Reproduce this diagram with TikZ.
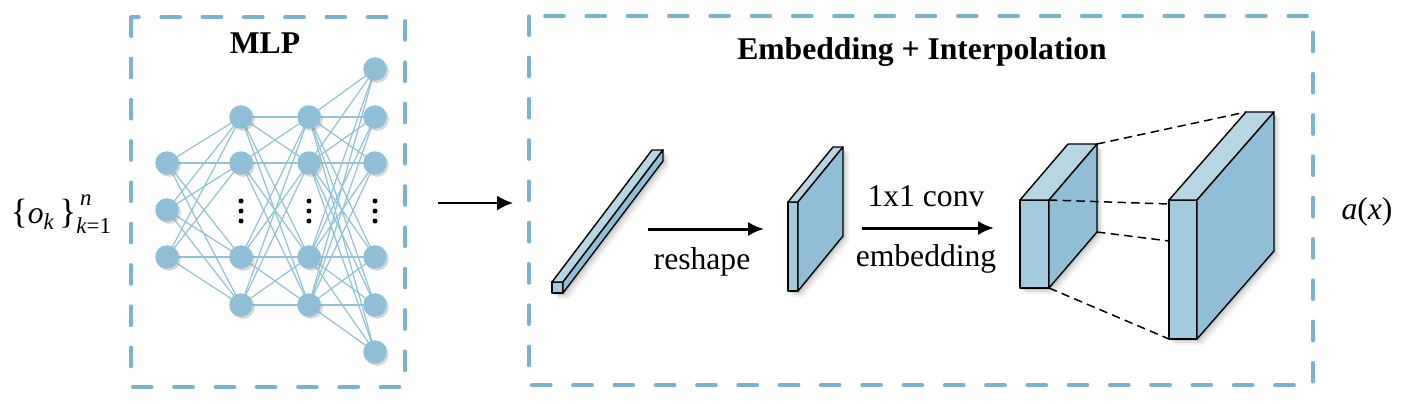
\documentclass[tikz,border=0pt]{standalone}
\usepackage{fontspec}
\setmainfont{Liberation Serif}
\usetikzlibrary{shadows,backgrounds,arrows.meta}
\definecolor{boxblue}{HTML}{7AB3CF}
\definecolor{neuron}{HTML}{8FBFD6}
\definecolor{edgeblue}{HTML}{92C2DA}
\definecolor{ffront}{HTML}{A3CADD}
\definecolor{ftop}{HTML}{B6D6E4}
\definecolor{fright}{HTML}{8FBED6}
\tikzset{
  groupbox/.style={draw=boxblue, line width=1.9pt, dash pattern=on 11pt off 12.5pt, line cap=round},
  neuronnode/.style={circle, fill=neuron, minimum size=0.47cm, inner sep=0pt,
    drop shadow={shadow xshift=1.2pt, shadow yshift=-1.2pt, opacity=0.3, fill=gray}},
  link/.style={draw=edgeblue, line width=0.7pt},
  dotnode/.style={circle, fill=black, minimum size=0.1cm, inner sep=0pt},
  face/.style={draw=black, line width=0.8pt, line join=round},
  flowthin/.style={draw=black, line width=1.1pt, -{Latex[length=9pt,width=8.5pt]}},
  flowthick/.style={draw=black, line width=1.7pt, -{Latex[length=9pt,width=8pt]}},
  guide/.style={draw=black, line width=0.85pt, dash pattern=on 4.8pt off 3pt},
  txt/.style={font=\fontsize{18}{21}\selectfont, inner sep=0pt},
  head/.style={font=\fontsize{18}{21}\selectfont\bfseries, inner sep=0pt},
}
% name, x, y, w, h, dx, dy  (pixel units, y downward)
\newcommand{\slab}[7]{%
  \coordinate (#1-ftl) at (#2,#3);
  \coordinate (#1-ftr) at (#2+#4,#3);
  \coordinate (#1-fbr) at (#2+#4,#3+#5);
  \coordinate (#1-fbl) at (#2,#3+#5);
  \coordinate (#1-btl) at (#2+#6,#3+#7);
  \coordinate (#1-btr) at (#2+#4+#6,#3+#7);
  \coordinate (#1-bbr) at (#2+#4+#6,#3+#5+#7);
  \foreach \s/\o in {2/0.10,4/0.07,6/0.05}{%
    \begin{scope}[shift={(\s,\s)}]
      \fill[black,opacity=\o] (#2,#3+#5) -- (#2,#3) -- (#2+#6,#3+#7) -- (#2+#4+#6,#3+#7)
        -- (#2+#4+#6,#3+#5+#7) -- (#2+#4,#3+#5) -- cycle;
    \end{scope}}
  \filldraw[face,fill=ffront] (#1-ftl) -- (#1-ftr) -- (#1-fbr) -- (#1-fbl) -- cycle;
  \filldraw[face,fill=ftop] (#1-ftl) -- (#1-btl) -- (#1-btr) -- (#1-ftr) -- cycle;
  \filldraw[face,fill=fright] (#1-ftr) -- (#1-btr) -- (#1-bbr) -- (#1-fbr) -- cycle;
}
\begin{document}
\begin{tikzpicture}[x=0.02cm,y=-0.02cm]
\useasboundingbox (0,0) rectangle (1406,403);

% group boxes
\draw[groupbox] (131,17) rectangle (405,387);
\draw[groupbox] (529,16) rectangle (1313,385);
\node[head] (mlptitle) at (265,43) {MLP};
\node[head] (embtitle) at (922,52) {Embedding + Interpolation};

% neurons
\foreach \y [count=\i] in {163,210,257} \node[neuronnode] (a\i) at (167,\y) {};
\foreach \y [count=\i] in {117,163,257,305} \node[neuronnode] (b\i) at (241,\y) {};
\foreach \y [count=\i] in {117,163,257,305} \node[neuronnode] (c\i) at (309,\y) {};
\foreach \y [count=\i] in {69,117,163,257,305,352} \node[neuronnode] (d\i) at (375,\y) {};
\begin{scope}[on background layer]
  \foreach \i in {1,...,3} \foreach \j in {1,...,4} \draw[link] (a\i.center) -- (b\j.center);
  \foreach \i in {1,...,4} \foreach \j in {1,...,4} \draw[link] (b\i.center) -- (c\j.center);
  \foreach \i in {1,...,4} \foreach \j in {1,...,6} \draw[link] (c\i.center) -- (d\j.center);
\end{scope}
\foreach \x/\n in {241/b,309/c,375/d}
  \foreach \y [count=\k] in {201,211,221} \node[dotnode] (dot\n\k) at (\x,\y) {};

% input / output text
\node[txt] (input) at (61,214) {{\fontsize{20}{21}\selectfont\{}\textit{o}\raisebox{-0.45ex}{\fontsize{13}{13}\selectfont\textit{k}}\,{\fontsize{20}{21}\selectfont\}}\rlap{\raisebox{1.2ex}{\fontsize{13}{13}\selectfont\,\textit{n}}}\raisebox{-0.7ex}{\fontsize{13}{13}\selectfont\textit{k}=1}};
\node[txt] (output) at (1367,212) {\textit{a}(\textit{x})};

% arrow between boxes
\coordinate (arrA) at (438,203);
\coordinate (arrB) at (513,203);
\draw[flowthin] (arrA) -- (arrB);

% blocks
\slab{bar}{552}{282}{11}{11}{100}{-132}
\slab{sq}{788}{202}{10}{89}{45}{-55}
\slab{emb}{1020}{200}{29}{88}{48}{-56}
\slab{big}{1169}{200}{28}{139}{77}{-88}

% reshape arrow
\coordinate (rsA) at (648,229);
\coordinate (rsB) at (764,229);
\draw[flowthick] (rsA) -- (rsB);
\node[txt] (reshape) at (702,262) {reshape};

% conv arrow
\coordinate (cvA) at (862,228);
\coordinate (cvB) at (994,228);
\draw[flowthick] (cvA) -- (cvB);
\node[txt] (conv) at (926,196) {1x1 conv};
\node[txt] (embedding) at (926,259) {embedding};

% interpolation guides
\coordinate (g2) at (1169,204);
\coordinate (g3) at (1169,241);
\draw[guide] (emb-btr) -- (big-btl);
\draw[guide] (emb-ftr) -- (g2);
\draw[guide] (emb-bbr) -- (g3);
\draw[guide] (emb-fbr) -- (big-fbl);
\end{tikzpicture}
\end{document}
